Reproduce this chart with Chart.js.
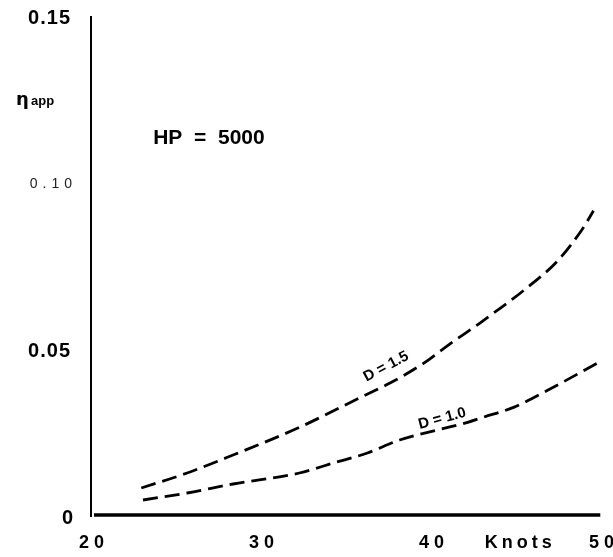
<!DOCTYPE html>
<html>
<head>
<meta charset="utf-8">
<script src="https://cdn.jsdelivr.net/npm/chart.js@4"></script>
<style>
  html, body { margin: 0; padding: 0; background: #fff; }
  #wrap { width: 613px; height: 557px; position: relative; }
</style>
</head>
<body>
<div id="wrap"><canvas id="effChart"></canvas></div>
<script>
// knots vs apparent efficiency
const knotsD15 = [22.9, 25.6, 28.3, 32.2, 35.8, 37.5, 39.5, 41.1, 42.8, 43.6, 45.4, 47.4, 48.9, 49.5];
const etaD15   = [0.0084, 0.0129, 0.0183, 0.0266, 0.0356, 0.0398, 0.0458, 0.0518, 0.0578, 0.0608, 0.0677, 0.0766, 0.0865, 0.0916];
const knotsD10 = [23.0, 25.6, 28.3, 32.2, 34.2, 36.2, 38.1, 42.1, 43.0, 44.8, 46.8, 49.7];
const etaD10   = [0.0048, 0.0069, 0.0096, 0.0129, 0.0159, 0.0189, 0.0228, 0.0281, 0.0296, 0.0326, 0.0377, 0.0458];

const xTicks = [20, 30, 40, 50];
const yTicksBold = [0.15, 0.05, 0];
const yTickLight = 0.10;

const toPoints = (xs, ys) => xs.map((x, i) => ({ x: x, y: ys[i] }));

// hand-drawn style axes, tick labels and notes
const paperText = {
    id: 'paperText',
    afterDraw(chart) {
        const { ctx, scales: { x, y } } = chart;
        const x0 = x.getPixelForValue(20);
        const y0 = y.getPixelForValue(0);
        ctx.save();
        ctx.strokeStyle = '#000';
        ctx.lineCap = 'butt';

        // vertical axis
        ctx.lineWidth = 2;
        ctx.beginPath();
        ctx.moveTo(x0 - 1, y.getPixelForValue(0.15));
        ctx.lineTo(x0 - 1, y0 + 1);
        ctx.stroke();

        // horizontal axis
        ctx.lineWidth = 3.5;
        ctx.beginPath();
        ctx.moveTo(x0 + 2, y0 - 1);
        ctx.lineTo(x.getPixelForValue(49.9), y0 - 1);
        ctx.stroke();

        ctx.fillStyle = '#000';
        ctx.textBaseline = 'middle';

        // y tick labels
        ctx.textAlign = 'right';
        ctx.font = 'bold 20px "Liberation Sans", Arial, sans-serif';
        ctx.letterSpacing = '1px';
        yTicksBold.forEach(v => {
            const lx = v === 0 ? x0 - 18 : x0 - 21;
            ctx.fillText(v === 0 ? '0' : v.toFixed(2), lx, y.getPixelForValue(v) + 2);
        });
        ctx.fillStyle = '#222';
        ctx.font = '14px "Liberation Sans", Arial, sans-serif';
        ctx.letterSpacing = '5px';
        ctx.fillText(yTickLight.toFixed(2), x0 - 15, y.getPixelForValue(yTickLight) + 1);

        // x tick labels
        ctx.fillStyle = '#000';
        ctx.textAlign = 'center';
        ctx.font = 'bold 18px "Liberation Sans", Arial, sans-serif';
        ctx.letterSpacing = '5px';
        xTicks.forEach(v => {
            ctx.fillText(String(v), x.getPixelForValue(v) + 2, y0 + 27);
        });
        ctx.textAlign = 'left';
        ctx.letterSpacing = '4px';
        ctx.fillText('Knots', x.getPixelForValue(43.1), y0 + 27);

        // y axis title
        ctx.letterSpacing = '0px';
        ctx.font = 'bold 18px "DejaVu Sans", sans-serif';
        ctx.fillText('η', 16, y.getPixelForValue(0.1248));
        ctx.font = 'bold 13px "Liberation Sans", Arial, sans-serif';
        ctx.fillText('app', 31, y.getPixelForValue(0.1245));

        // power note
        ctx.font = 'bold 21px "Liberation Sans Narrow", "Liberation Sans", Arial, sans-serif';
        ctx.fillText('HP  =  5000', x.getPixelForValue(23.6), y.getPixelForValue(0.1132));

        // curve labels
        const curveLabel = (txt, kx, vy, deg) => {
            ctx.save();
            ctx.translate(x.getPixelForValue(kx), y.getPixelForValue(vy));
            ctx.rotate(deg * Math.PI / 180);
            ctx.textAlign = 'center';
            ctx.font = 'bold 15px "Liberation Sans", Arial, sans-serif';
            ctx.letterSpacing = '0px';
            ctx.fillText(txt, 0, 0);
            ctx.restore();
        };
        curveLabel('D = 1.5', 37.3, 0.0448, -28);
        curveLabel('D = 1.0', 40.6, 0.0292, -15);
        ctx.restore();
    }
};

const lineStyle = {
    borderColor: '#000',
    borderWidth: 2.8,
    borderDash: [15, 7],
    pointRadius: 0,
    fill: false,
    cubicInterpolationMode: 'monotone'
};

new Chart(document.getElementById('effChart'), {
    type: 'line',
    data: {
        datasets: [
            Object.assign({ label: 'D = 1.5', data: toPoints(knotsD15, etaD15) }, lineStyle),
            Object.assign({ label: 'D = 1.0', data: toPoints(knotsD10, etaD10) }, lineStyle)
        ]
    },
    options: {
        responsive: true,
        maintainAspectRatio: false,
        animation: false,
        layout: { padding: { left: 92, right: 11, top: 16, bottom: 41 } },
        plugins: { legend: { display: false }, tooltip: { enabled: false } },
        scales: {
            x: { type: 'linear', min: 20, max: 50, display: false },
            y: { type: 'linear', min: 0, max: 0.15, display: false }
        }
    },
    plugins: [paperText]
});
</script>
</body>
</html>
